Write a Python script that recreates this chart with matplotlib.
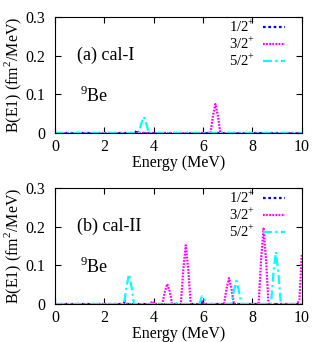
import matplotlib
matplotlib.use("Agg")
import matplotlib.pyplot as plt

plt.rcParams.update({'font.family': 'Liberation Serif', 'font.size': 11,
                     'mathtext.fontset': 'custom', 'mathtext.rm': 'Liberation Serif'})

# peak shapes: (energy, strength) points per curve
# cal-I
a_half_x = [0, 3.25, 3.32, 3.4, 10]
a_half_y = [0, 0, 0.008, 0, 0]
a_three_x = [0, 6.3, 6.4, 6.5, 6.6, 6.7, 10]
a_three_y = [0, 0, 0.045, 0.075, 0.045, 0, 0]
a_five_x = [0, 3.4, 3.5, 3.6, 3.7, 3.8, 10]
a_five_y = [0, 0, 0.025, 0.042, 0.025, 0, 0]

# cal-II
b_half_x = [0, 2.75, 2.85, 2.95, 5.9, 6.0, 6.1, 10]
b_half_y = [0, 0, 0.008, 0, 0, 0.005, 0, 0]
b_three_x = [0, 3.85, 3.95, 4.05,
             4.35, 4.45, 4.55, 4.65, 4.75,
             5.1, 5.2, 5.3, 5.4, 5.5,
             5.85, 5.95, 6.05,
             6.85, 6.95, 7.05, 7.15, 7.25,
             8.25, 8.35, 8.45, 8.55, 8.65,
             9.8, 9.9, 10.0]
b_three_y = [0, 0, 0.007, 0,
             0, 0.032, 0.052, 0.032, 0,
             0, 0.09, 0.152, 0.09, 0,
             0, 0.008, 0,
             0, 0.04, 0.067, 0.04, 0,
             0, 0.115, 0.195, 0.115, 0,
             0, 0.01, 0.13]
b_five_x = [0, 2.8, 2.9, 3.0, 3.1, 3.2,
            4.75, 4.85, 4.95,
            5.85, 5.95, 6.05, 6.15,
            7.15, 7.25, 7.35, 7.45, 7.55,
            8.75, 8.85, 8.95, 9.05, 9.15, 10]
b_five_y = [0, 0, 0.045, 0.077, 0.045, 0,
            0, 0.005, 0,
            0, 0.02, 0.012, 0,
            0, 0.035, 0.06, 0.035, 0,
            0, 0.08, 0.135, 0.08, 0, 0]

labels = ['$1/2^{+}$', '$3/2^{+}$', '$5/2^{+}$']
colors = ['#0000ff', '#ff00ff', '#00ffff']
styles = [(0, (1.2, 1.2)), (0, (0.8, 0.6)), (0, (4, 1.5, 1, 1.5))]

fig = plt.figure(figsize=(3.27, 3.42), dpi=100)
ax1 = fig.add_axes([0.168, 0.611, 0.755, 0.339])
ax2 = fig.add_axes([0.168, 0.111, 0.755, 0.339])

panels = [
    (ax1, [(a_half_x, a_half_y), (a_three_x, a_three_y), (a_five_x, a_five_y)], '(a) cal-I'),
    (ax2, [(b_half_x, b_half_y), (b_three_x, b_three_y), (b_five_x, b_five_y)], '(b) cal-II'),
]

for ax, curves, tag in panels:
    for (xs, ys), lab, c, ls in zip(curves, labels, colors, styles):
        ax.plot(xs, ys, color=c, linestyle=ls, linewidth=1.6, label=lab)
    ax.set_xlim(0, 10)
    ax.set_ylim(0, 0.3)
    ax.set_xticks([0, 2, 4, 6, 8, 10])
    ax.set_yticks([0, 0.1, 0.2, 0.3])
    ax.set_yticklabels(['0', '0.1', '0.2', '0.3'])
    ax.tick_params(direction='in', top=True, right=True, length=4, labelsize=11.5)
    ax.tick_params(axis='x', pad=4)
    ax.tick_params(axis='y', pad=7)
    ax.set_xlabel('Energy (MeV)', fontsize=11.5, labelpad=0)
    ax.set_ylabel('B(E1) (fm$^2$/MeV)', fontsize=11.5, labelpad=1)
    ax.text(0.9, 0.2, tag, fontsize=13, va='center')
    ax.text(1.0, 0.08, '$^{9}$Be', fontsize=13, va='baseline')
    ax.legend(loc='upper right', bbox_to_anchor=(0.93, 0.985), frameon=False,
              markerfirst=False, fontsize=10.5, handlelength=1.5, handletextpad=0.5,
              labelspacing=0.0, borderaxespad=0, borderpad=0)

fig.savefig('out.png', dpi=100)
